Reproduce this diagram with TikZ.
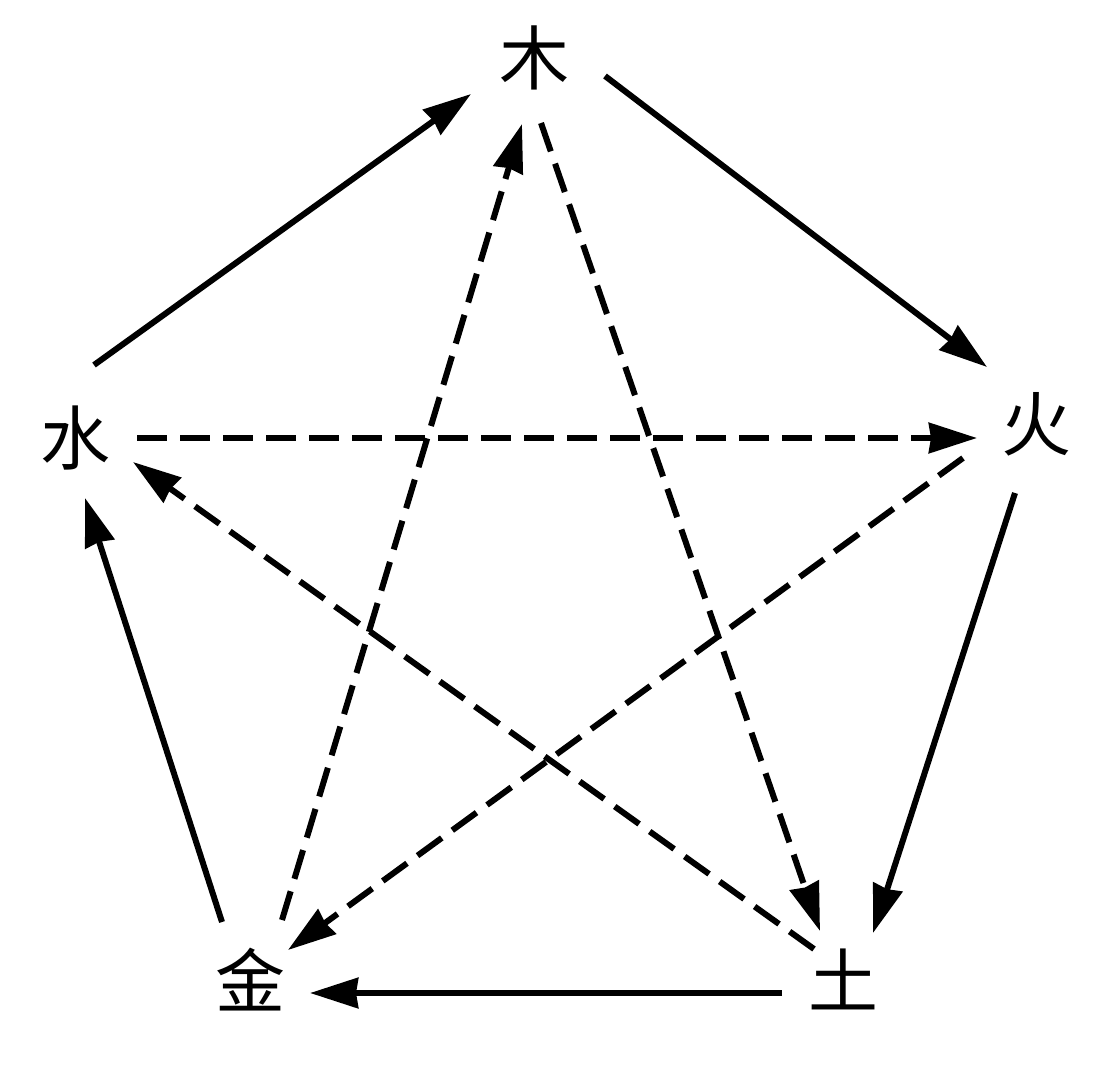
\documentclass[tikz,border=0pt]{standalone}
\usepackage{fontspec}
\newfontfamily\cjk{Noto Sans CJK SC}
\usetikzlibrary{arrows.meta}
\begin{document}
\begin{tikzpicture}[x=1pt,y=-1pt,
  el/.style={font=\cjk\fontsize{70}{70}\selectfont, inner sep=0pt, anchor=base},
  arr/.style={line width=6pt, -{Stealth[length=48pt,width=30pt,inset=2pt]}},
  dsh/.style={arr, dash pattern=on 30pt off 13pt}]
\useasboundingbox[fill=white] (0,0) rectangle (1099,1065);
% elements
\node[el] (mu)   at (534,84)   {木};
\node[el] (huo)  at (1036,450) {火};
\node[el] (shui) at (75,464)   {水};
\node[el] (jin)  at (250,1007) {金};
\node[el] (tu)   at (843,1007) {土};
% connector ends
\coordinate (sm1) at (94,365);   \coordinate (sm2) at (471,94);
\coordinate (mh1) at (605,76);   \coordinate (mh2) at (987,367);
\coordinate (ht1) at (1015,493); \coordinate (ht2) at (873,933);
\coordinate (tj1) at (782,993);  \coordinate (tj2) at (310,993);
\coordinate (js1) at (222,922);  \coordinate (js2) at (85,498);
\coordinate (sh1) at (137,438);  \coordinate (sh2) at (977,438);
\coordinate (hj1) at (963,458);  \coordinate (hj2) at (288,950);
\coordinate (ts1) at (814,949);  \coordinate (ts2) at (133,462);
\coordinate (jm1) at (282,920);  \coordinate (jm2) at (522,124);
\coordinate (mt1) at (541,123);  \coordinate (mt2) at (820,931);
% generating cycle
\draw[arr] (sm1) -- (sm2);
\draw[arr] (mh1) -- (mh2);
\draw[arr] (ht1) -- (ht2);
\draw[arr] (tj1) -- (tj2);
\draw[arr] (js1) -- (js2);
% controlling cycle
\draw[dsh] (sh1) -- (sh2);
\draw[dsh] (hj1) -- (hj2);
\draw[dsh] (ts1) -- (ts2);
\draw[dsh] (jm1) -- (jm2);
\draw[dsh] (mt1) -- (mt2);
\end{tikzpicture}
\end{document}
